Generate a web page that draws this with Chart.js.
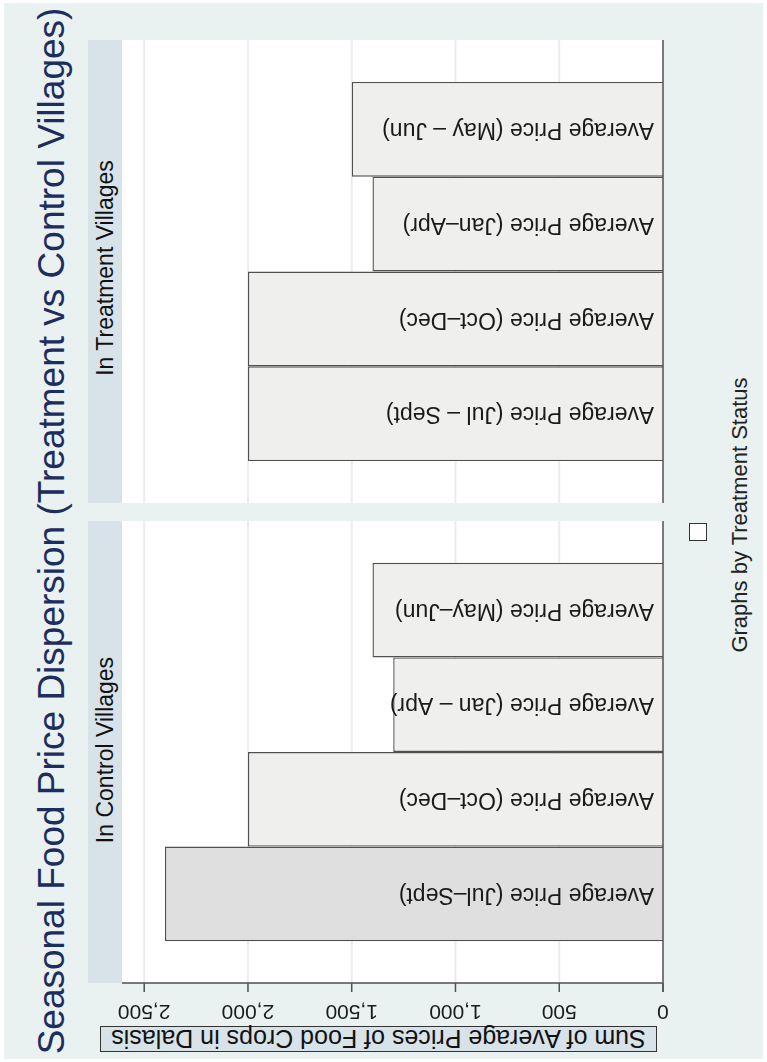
<!DOCTYPE html>
<html>
<head>
<meta charset="utf-8">
<title>Seasonal Food Price Dispersion</title>
<script src="https://cdn.jsdelivr.net/npm/chart.js@4.4.0/dist/chart.umd.min.js"></script>
<style>
  body { margin: 0; background: #fff; font-family: 'Liberation Sans', Arial, sans-serif; }
  #graph { position: absolute; left: 4px; top: 3px; width: 759px; height: 1056px; background: #e9f1f1; }
  canvas { position: absolute; left: 0; top: 0; }
  .strip { position: absolute; left: 88px; width: 34px; background: #d7e3e9; }
  .vtext { position: absolute; white-space: nowrap; line-height: 1; transform: translate(-50%, -50%) rotate(-90deg); }
  #title { left: 51px; top: 531px; font-size: 37px; color: #1d2d5e; }
  .stripText { font-size: 23px; color: #111; }
  #note { left: 740px; top: 515px; font-size: 22px; color: #222; }
  #legendKey { position: absolute; left: 689px; top: 523px; width: 16px; height: 16px; border: 1.5px solid #333; background: #fff; }
  #axisTitle { position: absolute; left: 100px; top: 1026px; width: 555px; height: 24px; background: #d7e3e9; border: 1px solid #333;
    font-size: 25px; line-height: 24px; text-align: center; color: #111; white-space: nowrap; transform: rotate(180deg); }
</style>
</head>
<body>
<div id="graph"></div>
<div class="strip" style="top:40px;height:463px"></div>
<div class="strip" style="top:521px;height:462px"></div>
<div id="title" class="vtext">Seasonal Food Price Dispersion (Treatment vs Control Villages)</div>
<div class="vtext stripText" style="left:105px;top:268px">In Treatment Villages</div>
<div class="vtext stripText" style="left:105px;top:750px">In Control Villages</div>
<div id="legendKey"></div>
<div id="note" class="vtext">Graphs by Treatment Status</div>
<div id="axisTitle">Sum of Average Prices of Food Crops in Dalasis</div>
<canvas id="treatmentChart" width="767" height="1062"></canvas>
<canvas id="controlChart" width="767" height="1062"></canvas>

<script>
// seasonal price sums, Jul-Sept first (bottom bar) up to May-Jun (top bar)
const treatmentLabels = ['Average Price (Jul – Sept)', 'Average Price (Oct–Dec)', 'Average Price (Jan–Apr)', 'Average Price (May – Jun)'];
const treatmentValues = [2000, 2000, 1400, 1500];

const controlLabels = ['Average Price (Jul–Sept)', 'Average Price (Oct–Dec)', 'Average Price (Jan – Apr)', 'Average Price (May–Jun)'];
const controlValues = [2400, 2000, 1300, 1400];

const valueTicks = [0, 500, 1000, 1500, 2000, 2500];
const axisMax = 2607;

const barFill = '#eff0ed';
const barFillDark = '#dfdfdf';
const lineColor = '#505050';

// grid, zero line, bar labels and (bottom panel only) the value axis
const panelPlugin = {
  id: 'panel',
  beforeDatasetsDraw(chart) {
    const ctx = chart.ctx;
    const a = chart.chartArea;
    const x = chart.scales.x;
    ctx.save();
    ctx.fillStyle = '#fff';
    ctx.fillRect(a.left, a.top, a.right - a.left, a.bottom - a.top);
    ctx.strokeStyle = '#ececec';
    ctx.lineWidth = 2;
    valueTicks.forEach(v => {
      if (v === 0) return;
      const px = x.getPixelForValue(v);
      ctx.beginPath();
      ctx.moveTo(px, a.top);
      ctx.lineTo(px, a.bottom);
      ctx.stroke();
    });
    ctx.restore();
  },
  afterDatasetsDraw(chart, args, opts) {
    const ctx = chart.ctx;
    const a = chart.chartArea;
    const x = chart.scales.x;
    const x0 = x.getPixelForValue(0);
    ctx.save();

    // labels inside the bars, upside down like the original
    ctx.font = '23px "Liberation Sans", Arial, sans-serif';
    ctx.fillStyle = '#1a1a1a';
    ctx.textBaseline = 'middle';
    ctx.textAlign = 'left';
    chart.data.datasets.forEach((ds, i) => {
      const bar = chart.getDatasetMeta(i).data[0];
      ctx.save();
      ctx.translate(x0 - 9, bar.y);
      ctx.rotate(Math.PI);
      ctx.fillText(ds.label, 0, 0);
      ctx.restore();
    });

    const tickLen = 9;
    ctx.strokeStyle = lineColor;
    ctx.lineWidth = 1.5;
    ctx.beginPath();
    ctx.moveTo(x0, a.top);
    ctx.lineTo(x0, a.bottom + (opts.showAxis ? tickLen : 0));
    ctx.stroke();

    if (opts.showAxis) {
      ctx.beginPath();
      ctx.moveTo(a.left, a.bottom);
      ctx.lineTo(x0, a.bottom);
      valueTicks.forEach(v => {
        const px = x.getPixelForValue(v);
        ctx.moveTo(px, a.bottom);
        ctx.lineTo(px, a.bottom + tickLen);
      });
      ctx.stroke();

      ctx.font = '21px "Liberation Sans", Arial, sans-serif';
      ctx.textAlign = 'center';
      valueTicks.forEach(v => {
        ctx.save();
        ctx.translate(x.getPixelForValue(v), a.bottom + 28);
        ctx.rotate(Math.PI);
        ctx.fillText(v.toLocaleString('en-US'), 0, 0);
        ctx.restore();
      });
    }
    ctx.restore();
  }
};

function renderPanel(canvasId, labels, values, darkFirst, padding, showAxis) {
  // one group of four bars; top bar first, so go through the seasons backwards
  const datasets = [];
  for (let i = labels.length - 1; i >= 0; i--) {
    datasets.push({
      label: labels[i],
      data: [values[i]],
      backgroundColor: (darkFirst && i === 0) ? barFillDark : barFill,
      borderColor: lineColor,
      borderWidth: 1.4,
      categoryPercentage: 0.819,
      barPercentage: 1
    });
  }
  const ctx = document.getElementById(canvasId).getContext('2d');
  return new Chart(ctx, {
    type: 'bar',
    data: { labels: [''], datasets: datasets },
    options: {
      indexAxis: 'y',
      responsive: false,
      animation: false,
      layout: { padding: padding },
      scales: {
        x: { type: 'linear', display: false, reverse: true, min: 0, max: axisMax },
        y: { display: false }
      },
      plugins: {
        legend: { display: false },
        tooltip: { enabled: false },
        panel: { showAxis: showAxis }
      }
    },
    plugins: [panelPlugin]
  });
}

renderPanel('treatmentChart', treatmentLabels, treatmentValues, false,
  { left: 122, right: 104, top: 40, bottom: 559 }, false);
renderPanel('controlChart', controlLabels, controlValues, true,
  { left: 122, right: 104, top: 521, bottom: 79 }, true);
</script>
</body>
</html>
